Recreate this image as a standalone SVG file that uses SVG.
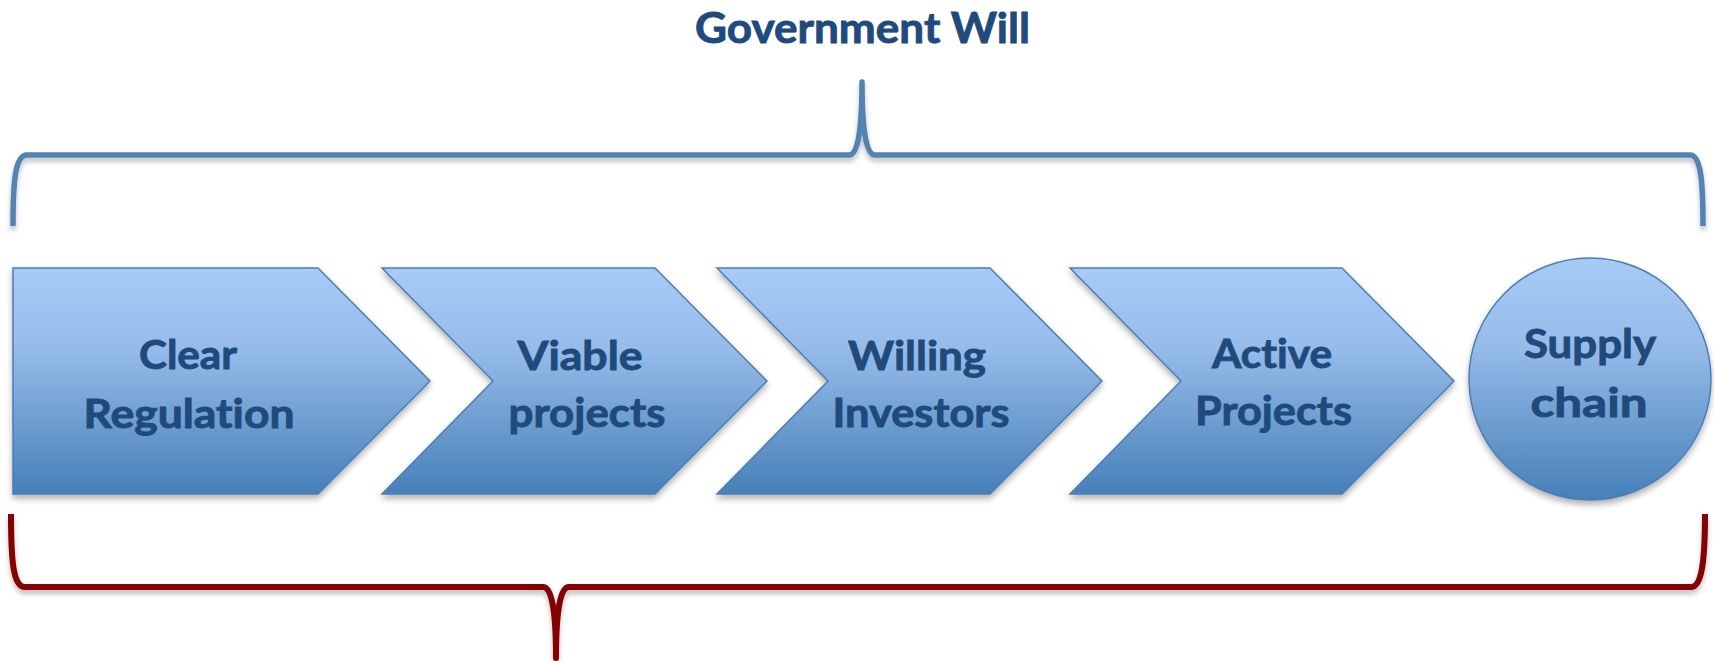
<svg xmlns="http://www.w3.org/2000/svg" width="1714" height="661" viewBox="0 0 1714 661">
  <defs>
    <linearGradient id="blueGrad" x1="0" y1="0" x2="0" y2="1">
      <stop offset="0" stop-color="#A7CBF6"/>
      <stop offset="0.35" stop-color="#97BCEA"/>
      <stop offset="1" stop-color="#4680B8"/>
    </linearGradient>
    <filter id="shadow" x="-10%" y="-10%" width="120%" height="130%">
      <feDropShadow dx="0" dy="4" stdDeviation="3" flood-color="#000" flood-opacity="0.3"/>
    </filter>
    <filter id="lineShadow" x="-5%" y="-20%" width="110%" height="150%">
      <feDropShadow dx="0" dy="4" stdDeviation="2.5" flood-color="#000" flood-opacity="0.25"/>
    </filter>
  </defs>
  <style>
    .shape { fill: url(#blueGrad); stroke: #4A7EB6; stroke-width: 1.5; filter: url(#shadow); }
    .label { font-family: Lato, "Open Sans", "Liberation Sans", sans-serif; font-weight: bold; font-size: 41px; fill: #1F4A7C; stroke: #1F4A7C; stroke-width: 0.9; text-anchor: middle; font-variant-ligatures: none; }
    .title { font-size: 42px; }
    .brace { fill: none; stroke-width: 5.5; stroke-linecap: butt; stroke-linejoin: round; filter: url(#lineShadow); }
    .top { stroke: #5282B3; }
    .bottom { stroke: #850000; stroke-width: 6; }
  </style>

  <rect width="1714" height="661" fill="#FFFFFF"/>

  <g id="title">
    <text class="label title" x="862.5" y="43" textLength="335" lengthAdjust="spacingAndGlyphs">Government Will</text>
  </g>

  <g id="braces">
    <path class="brace top" d="M13,226 C13,182 15,155 27,155 L849,155 Q862,155 862,82 Q862,155 875,155 L1690,155 C1701,155 1703,182 1703,226"/>
    <path class="brace bottom" d="M11,514 C11,560 13,587 25,587 L543,587 Q556,587 556,658 Q556,587 569,587 L1691,587 C1702,587 1705,560 1705,514"/>
  </g>

  <g id="node-clear-regulation">
    <polygon class="shape" points="13,268 318,268 430,381 318,494 13,494"/>
    <text class="label" x="188" y="369" textLength="98" lengthAdjust="spacingAndGlyphs">Clear</text>
    <text class="label" x="189" y="428" textLength="211" lengthAdjust="spacingAndGlyphs">Regulation</text>
  </g>

  <g id="node-viable-projects">
    <polygon class="shape" points="382,268 655,268 767,381 655,494 382,494 493,381"/>
    <text class="label" x="580" y="370" textLength="125" lengthAdjust="spacingAndGlyphs">Viable</text>
    <text class="label" x="587" y="427" textLength="157" lengthAdjust="spacingAndGlyphs">projects</text>
  </g>

  <g id="node-willing-investors">
    <polygon class="shape" points="717,268 990,268 1102,381 990,494 717,494 828,381"/>
    <text class="label" x="917" y="370" textLength="138" lengthAdjust="spacingAndGlyphs">Willing</text>
    <text class="label" x="921" y="427" textLength="177" lengthAdjust="spacingAndGlyphs">Investors</text>
  </g>

  <g id="node-active-projects">
    <polygon class="shape" points="1070,268 1342,268 1454,381 1342,494 1070,494 1181,381"/>
    <text class="label" x="1272" y="368" textLength="120" lengthAdjust="spacingAndGlyphs">Active</text>
    <text class="label" x="1273.5" y="425" textLength="157" lengthAdjust="spacingAndGlyphs">Projects</text>
  </g>

  <g id="node-supply-chain">
    <circle class="shape" cx="1590" cy="379" r="121"/>
    <text class="label" x="1590" y="358" textLength="132" lengthAdjust="spacingAndGlyphs">Supply</text>
    <text class="label" x="1589" y="417" textLength="117" lengthAdjust="spacingAndGlyphs">chain</text>
  </g>
</svg>
